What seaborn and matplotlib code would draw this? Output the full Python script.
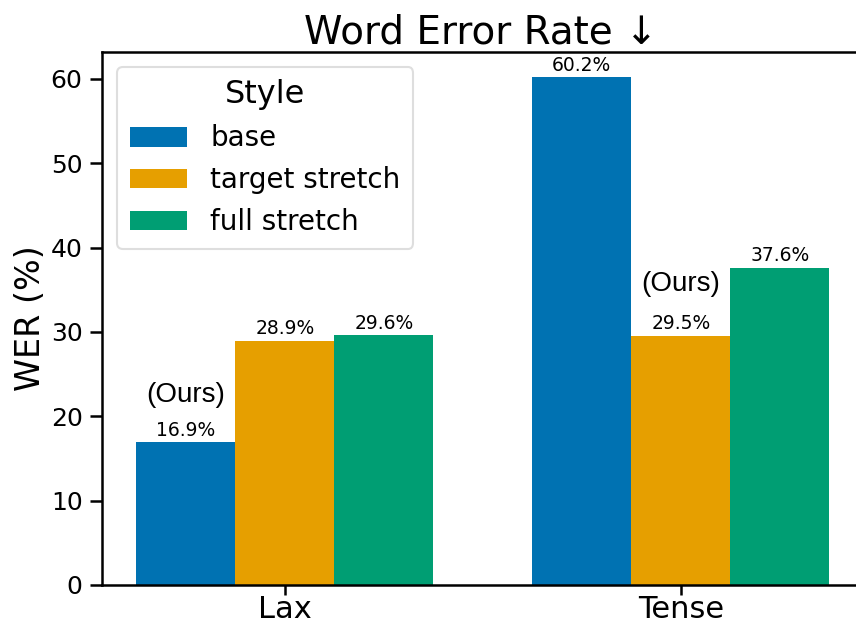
import matplotlib
matplotlib.use("Agg")
import matplotlib.pyplot as plt
import seaborn as sns
import pandas as pd

# Word error rates (%) per vowel condition and stretch style
conditions = ["Lax", "Tense"]
styles = ["base", "target stretch", "full stretch"]
wer_base = [16.9, 60.2]
wer_target = [28.9, 29.5]
wer_full = [29.6, 37.6]
style_colors = ["#0072B2", "#E69F00", "#009E73"]

# Bars marked as our method: (condition index, style, offset in pixels)
ours_marks = [(0, "base", 47), (1, "target stretch", 52)]

rows = []
for style, vals in zip(styles, [wer_base, wer_target, wer_full]):
    for cond, v in zip(conditions, vals):
        rows.append({"Condition": cond, "Style": style, "WER": v})
df = pd.DataFrame(rows)

sns.set_theme(context="talk", style="ticks")
plt.rcParams["font.family"] = ["DejaVu Sans"]
plt.rcParams["text.color"] = "black"
plt.rcParams["axes.labelcolor"] = "black"
plt.rcParams["xtick.color"] = "black"
plt.rcParams["ytick.color"] = "black"
plt.rcParams["axes.edgecolor"] = "black"

fig = plt.figure(figsize=(8.56, 6.28), dpi=100)
ax = fig.add_axes([102 / 856, 43 / 628, 757 / 856, 533 / 628])

sns.barplot(data=df, x="Condition", y="WER", hue="Style", hue_order=styles,
            order=conditions, palette=style_colors, width=0.75, ax=ax,
            saturation=1, linewidth=0)

for cont in ax.containers:
    ax.bar_label(cont, fmt="%.1f%%", fontsize=13.5, padding=2)

# "(Ours)" tags above the bars of our method
for ci, style, off in ours_marks:
    cont = ax.containers[styles.index(style)]
    bar = cont.patches[ci]
    xc = bar.get_x() + bar.get_width() / 2
    ax.annotate("(Ours)", xy=(xc, bar.get_height()), xytext=(0, off),
                textcoords="offset pixels", ha="center", va="center",
                fontsize=20, family=["Liberation Sans"])

ax.set_xlim(-0.462, 1.45)
ax.set_ylim(0, 63.2)
ax.set_yticks([0, 10, 20, 30, 40, 50, 60])
ax.set_title("Word Error Rate ↓", fontsize=28, pad=6)
ax.set_xlabel("")
ax.set_ylabel("WER (%)", fontsize=24, labelpad=3)
ax.tick_params(axis="x", labelsize=22, length=7, width=1.8, pad=0)
ax.tick_params(axis="y", labelsize=18, length=9, width=1.8, pad=5)
for sp in ax.spines.values():
    sp.set_linewidth(1.8)

leg = ax.legend(title="Style", loc="upper left", fontsize=20,
                title_fontsize=23, handlelength=2.05, handleheight=0.72,
                borderpad=0.45, labelspacing=0.5, handletextpad=0.85,
                bbox_to_anchor=(0.002, 0.998))
leg.get_frame().set_edgecolor("#d6d6d6")

fig.savefig("out.png", dpi=100)
